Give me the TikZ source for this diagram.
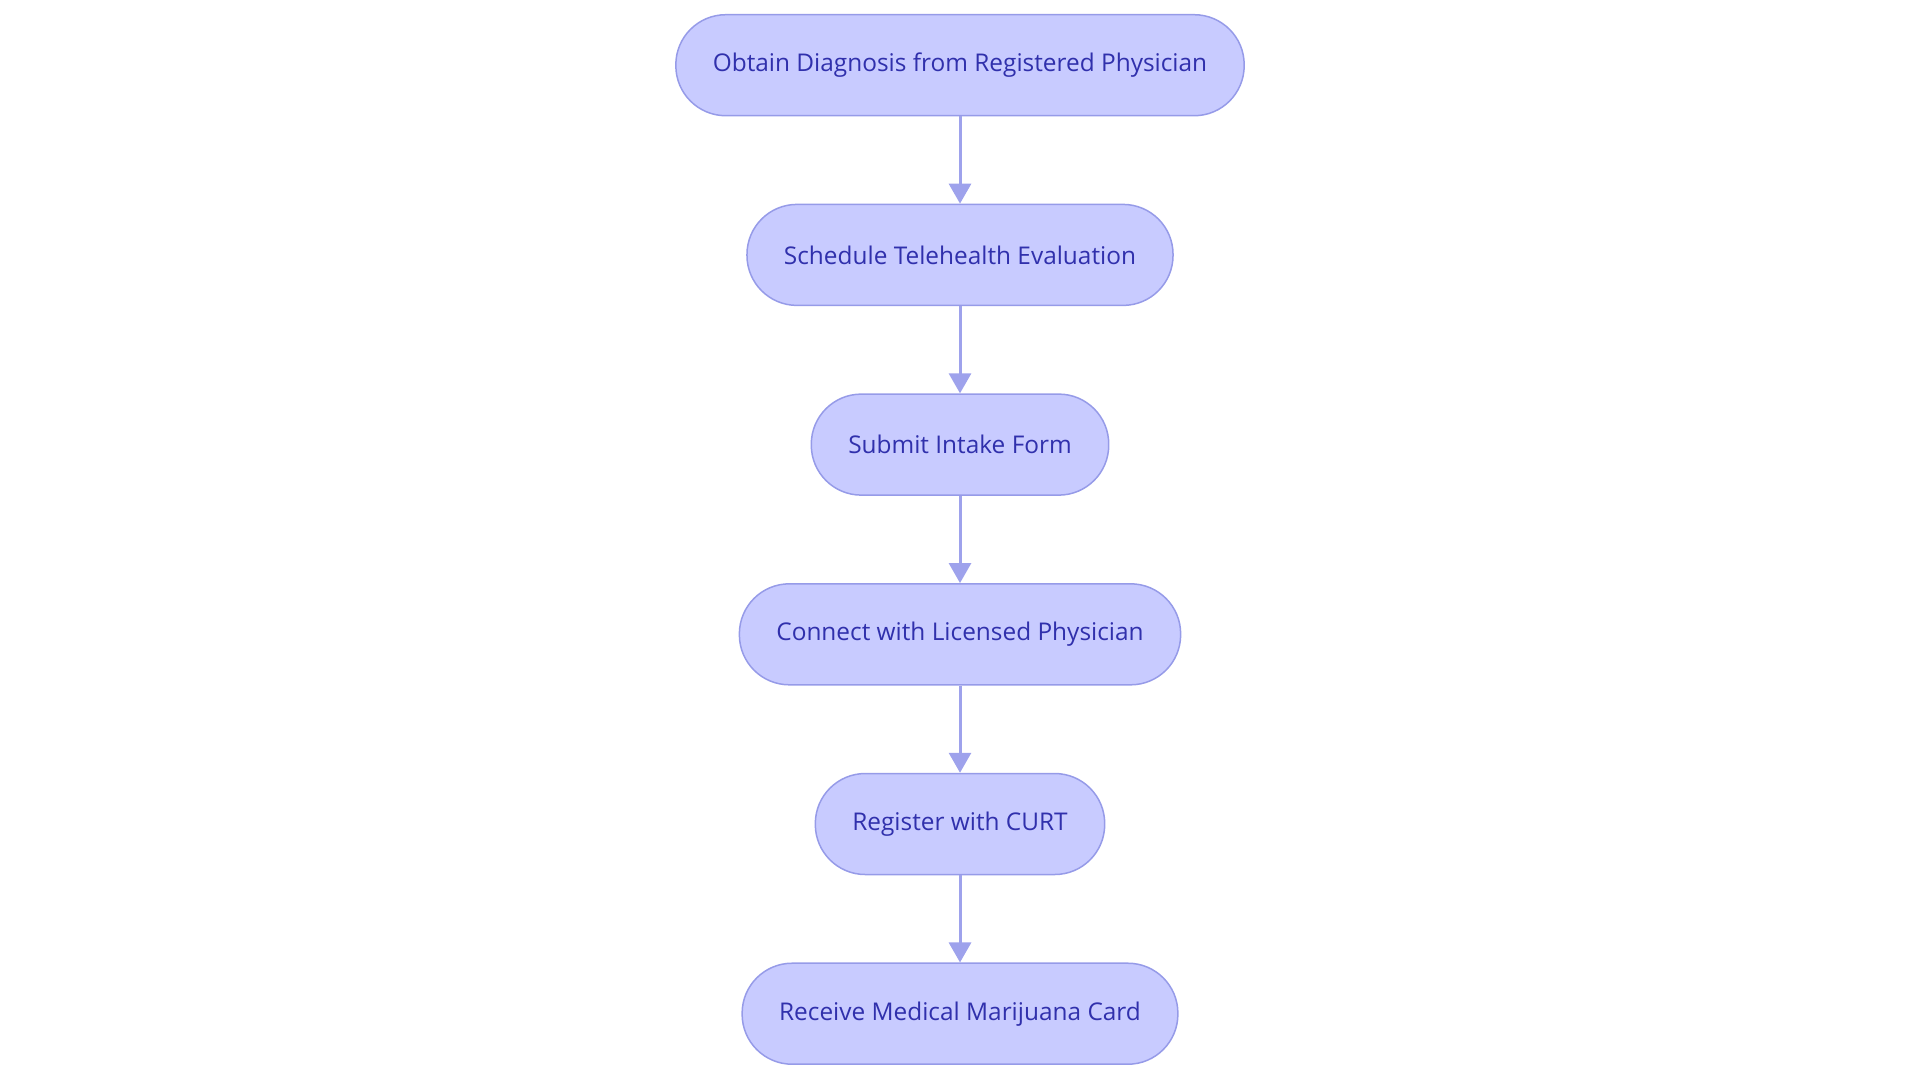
\documentclass[tikz,border=0pt]{standalone}
\usepackage{fontspec}
\setmainfont{Open Sans}
\usetikzlibrary{positioning,arrows.meta}
\definecolor{stepfill}{RGB}{200,203,255}
\definecolor{stepdraw}{RGB}{150,155,232}
\definecolor{steptext}{RGB}{48,48,172}
\definecolor{flowline}{RGB}{158,162,236}
\begin{document}
\begin{tikzpicture}[font=\fontsize{12.2pt}{14pt}\selectfont,>={Triangle[length=10pt,width=11pt]}]
\tikzset{
  stepbox/.style={draw=stepdraw,line width=0.75pt,fill=stepfill,text=steptext,
    rounded corners=25pt,minimum height=50.5pt,inner xsep=18.5pt},
  flow/.style={->,draw=flowline,line width=1.5pt}
}
\useasboundingbox (0,0) rectangle (960pt,-541.5pt);

% steps, top to bottom
\node[stepbox] (diagnosis) at (480pt,-32.6pt) {Obtain Diagnosis from Registered Physician};
\node[stepbox,below=43.6pt of diagnosis] (schedule) {Schedule Telehealth Evaluation};
\node[stepbox,below=43.6pt of schedule] (intake) {Submit Intake Form};
\node[stepbox,below=43.6pt of intake] (connect) {Connect with Licensed Physician};
\node[stepbox,below=43.6pt of connect] (register) {Register with CURT};
\node[stepbox,below=43.6pt of register] (card) {Receive Medical Marijuana Card};

% arrows
\draw[flow] (diagnosis) -- (schedule);
\draw[flow] (schedule) -- (intake);
\draw[flow] (intake) -- (connect);
\draw[flow] (connect) -- (register);
\draw[flow] (register) -- (card);

\end{tikzpicture}
\end{document}
